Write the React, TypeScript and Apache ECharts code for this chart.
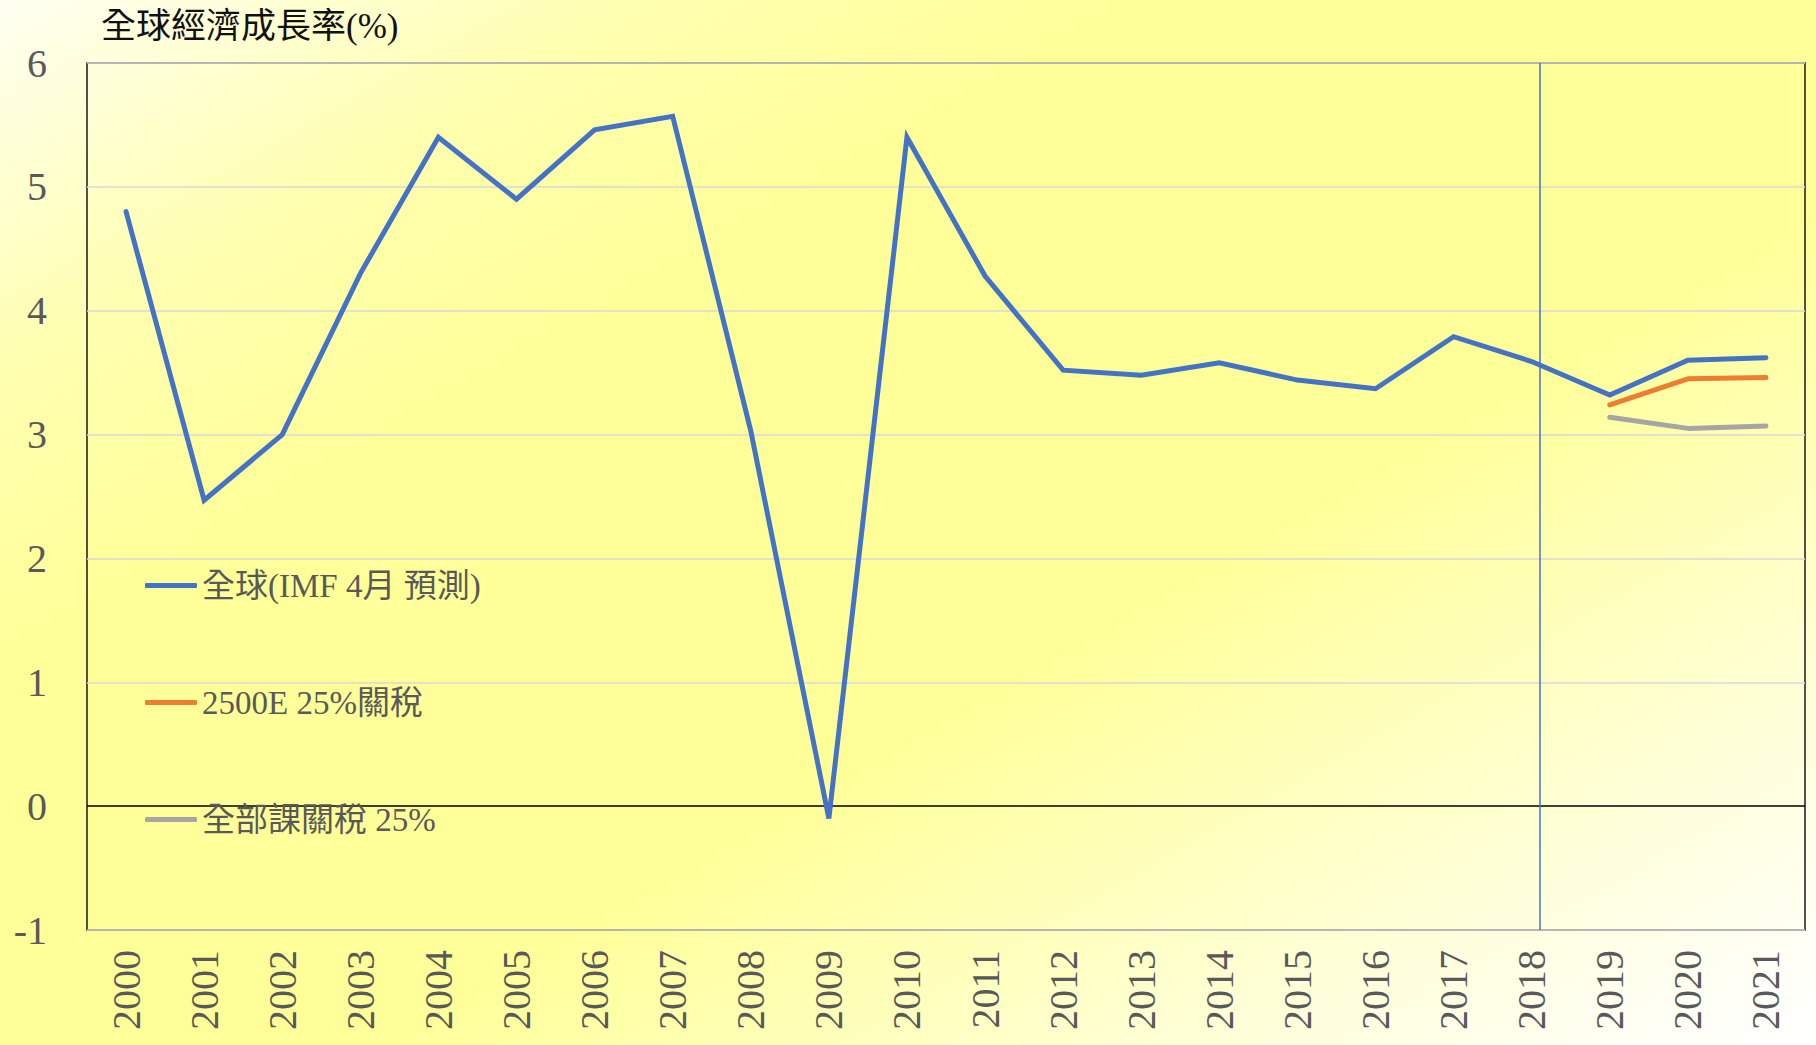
import React, { useEffect, useRef } from "react";
import * as echarts from "echarts";

const years = [
  "2000", "2001", "2002", "2003", "2004", "2005", "2006", "2007", "2008", "2009", "2010",
  "2011", "2012", "2013", "2014", "2015", "2016", "2017", "2018", "2019", "2020", "2021",
];

const globalImf = [
  4.8, 2.47, 3.0, 4.3, 5.4, 4.9, 5.46, 5.57, 3.03, -0.1, 5.4,
  4.28, 3.52, 3.48, 3.58, 3.44, 3.37, 3.79, 3.59, 3.32, 3.6, 3.62,
];

const tariff2500 = [
  null, null, null, null, null, null, null, null, null, null, null,
  null, null, null, null, null, null, null, null, 3.24, 3.45, 3.46,
];

const tariffAll = [
  null, null, null, null, null, null, null, null, null, null, null,
  null, null, null, null, null, null, null, null, 3.14, 3.05, 3.07,
];

const seriesNames = ["全球(IMF 4月 預測)", "2500E 25%關稅", "全部課關稅 25%"];
const seriesColors = ["#4472C4", "#ED7D31", "#A5A5A5"];
const yTicks = { min: -1, max: 6, interval: 1 };
const forecastDivider = 18.6; // position on the category index scale (0..22)

const FONT = "'Liberation Serif', 'Noto Sans CJK TC', serif";

export default function App() {
  const ref = useRef<HTMLDivElement>(null);

  useEffect(() => {
    if (!ref.current) return;
    const chart = echarts.init(ref.current, null, { renderer: "svg" });
    const splitColors = ["#D9D9D9", "#000000", "#D9D9D9", "#D9D9D9", "#D9D9D9", "#D9D9D9", "#D9D9D9", "#D9D9D9"];
    chart.setOption({
      animation: false,
      backgroundColor: "transparent",
      title: {
        text: "全球經濟成長率(%)",
        left: 96,
        top: 4,
        textStyle: { fontFamily: FONT, fontSize: 35, fontWeight: "normal", color: "#111" },
      },
      legend: {
        data: seriesNames,
        orient: "vertical",
        left: 145,
        top: 569,
        padding: 0,
        itemGap: 84,
        itemWidth: 52,
        itemHeight: 5,
        icon: "roundRect",
        textStyle: { fontFamily: FONT, fontSize: 33, color: "#595959" },
      },
      grid: {
        left: 87,
        right: 11,
        top: 63,
        bottom: 115,
        show: true,
        borderColor: "#1a1a1a",
        borderWidth: 1.5,
      },
      xAxis: [
        {
          type: "category",
          data: years,
          boundaryGap: true,
          axisLine: { show: false },
          axisTick: { show: false },
          axisLabel: {
            rotate: 90,
            margin: 20,
            fontFamily: FONT,
            fontSize: 40,
            color: "#595959",
          },
        },
        {
          type: "value",
          min: 0,
          max: years.length,
          show: false,
        },
      ],
      yAxis: {
        type: "value",
        min: yTicks.min,
        max: yTicks.max,
        interval: yTicks.interval,
        axisLine: { show: false },
        axisTick: { show: false },
        axisLabel: { margin: 40, fontFamily: FONT, fontSize: 40, color: "#595959" },
        splitLine: { show: true, lineStyle: { color: splitColors, width: 1.5 } },
      },
      series: [
        {
          name: seriesNames[0],
          type: "line",
          data: globalImf,
          symbol: "none",
          color: seriesColors[0],
          lineStyle: { width: 5, color: seriesColors[0], cap: "round", join: "miter" },
        },
        {
          name: seriesNames[1],
          type: "line",
          data: tariff2500,
          symbol: "none",
          color: seriesColors[1],
          lineStyle: { width: 5, color: seriesColors[1], cap: "round" },
        },
        {
          name: seriesNames[2],
          type: "line",
          data: tariffAll,
          symbol: "none",
          color: seriesColors[2],
          lineStyle: { width: 5, color: seriesColors[2], cap: "round" },
        },
        {
          name: "divider",
          type: "line",
          xAxisIndex: 1,
          data: [],
          silent: true,
          markLine: {
            silent: true,
            symbol: "none",
            label: { show: false },
            lineStyle: { color: "#4472C4", width: 1.5, type: "solid" },
            data: [{ xAxis: forecastDivider }],
          },
        },
      ],
    });
    return () => chart.dispose();
  }, []);

  return (
    <div
      style={{
        position: "fixed",
        left: 0,
        top: 0,
        width: 1816,
        height: 1045,
        background:
          "linear-gradient(to bottom right, #FFFFF2 0%, #FFFFB0 18%, #FFFF99 32%, #FFFF99 60%, #FFFFD0 80%, #FFFFF6 95%, #FFFFFF 100%)",
      }}
    >
      <div ref={ref} style={{ width: 1816, height: 1045 }} />
    </div>
  );
}
